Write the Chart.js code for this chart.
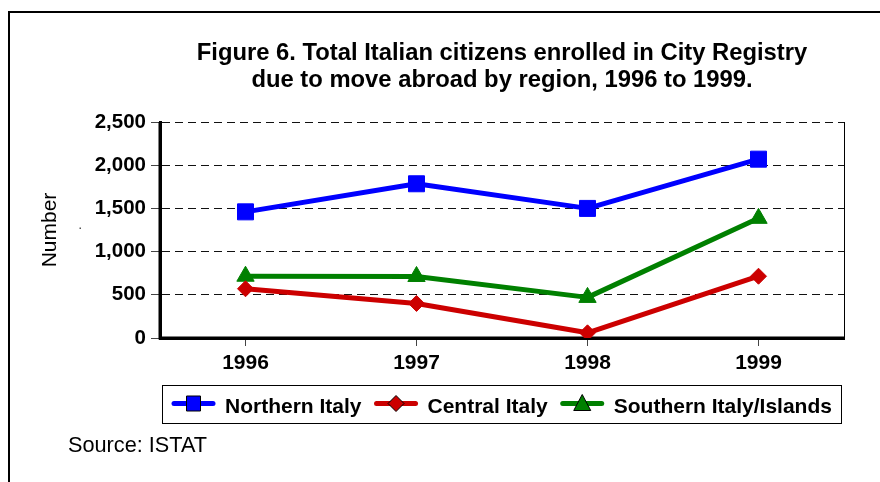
<!DOCTYPE html>
<html lang="en">
<head>
<meta charset="UTF-8">
<title>Figure 6 - Italian citizens enrolled due to move abroad</title>
<script src="https://cdn.jsdelivr.net/npm/chart.js@4"></script>
<style>
  html, body { margin: 0; padding: 0; background: #fff; }
  #wrap { width: 880px; height: 482px; }
</style>
</head>
<body>
<div id="wrap"><canvas id="chart" width="880" height="482"></canvas></div>
<script>
// data: enrolments by macro-region
const years = ['1996', '1997', '1998', '1999'];
const northern = [1460, 1785, 1500, 2070];
const central = [570, 400, 60, 715];
const southern = [715, 712, 470, 1385];
const yTicks = [0, 500, 1000, 1500, 2000, 2500];
const seriesNames = ['Northern Italy', 'Central Italy', 'Southern Italy/Islands'];
const titleLines = [
    'Figure 6. Total Italian citizens enrolled in City Registry',
    'due to move abroad by region, 1996 to 1999.'
];
const sourceNote = 'Source: ISTAT';

const FONT = "'Liberation Sans', Arial, sans-serif";
const BLUE = '#0000ff';
const RED = '#cc0000';
const GREEN = '#008000';

// small marker painter used by the legend
function marker(ctx, style, x, y, color) {
    ctx.save();
    ctx.fillStyle = color;
    ctx.strokeStyle = '#000';
    ctx.lineWidth = 1;
    ctx.beginPath();
    if (style === 'rect') {
        ctx.rect(x - 7, y - 7.5, 14, 15);
    } else if (style === 'rectRot') {
        ctx.moveTo(x, y - 8);
        ctx.lineTo(x + 8, y);
        ctx.lineTo(x, y + 8);
        ctx.lineTo(x - 8, y);
        ctx.closePath();
    } else {
        ctx.moveTo(x, y - 9);
        ctx.lineTo(x + 8.5, y + 7);
        ctx.lineTo(x - 8.5, y + 7);
        ctx.closePath();
    }
    ctx.fill();
    ctx.stroke();
    ctx.restore();
}

// heavy left and bottom axis lines, under the series
const axisLines = {
    id: 'axisLines',
    beforeDatasetsDraw(chart) {
        const ctx = chart.ctx;
        const a = chart.chartArea;
        ctx.save();
        ctx.strokeStyle = '#000';
        ctx.lineWidth = 3;
        ctx.beginPath();
        ctx.moveTo(a.left, a.top);
        ctx.lineTo(a.left, a.bottom);
        ctx.lineTo(a.right + 1, a.bottom);
        ctx.stroke();
        ctx.restore();
    }
};

// outer frame, title, legend box, source line
const decorations = {
    id: 'decorations',
    afterDraw(chart) {
        const ctx = chart.ctx;
        const area = chart.chartArea;
        ctx.save();

        // frame around the whole figure
        ctx.strokeStyle = '#000';
        ctx.lineWidth = 2;
        ctx.strokeRect(9, 12, 900, 500);

        // thin right edge of the plot area
        ctx.lineWidth = 1;
        ctx.beginPath();
        ctx.moveTo(Math.round(area.right) + 0.5, area.top);
        ctx.lineTo(Math.round(area.right) + 0.5, area.bottom);
        ctx.stroke();

        // title
        ctx.fillStyle = '#000';
        ctx.font = 'bold 23.8px ' + FONT;
        ctx.textAlign = 'center';
        ctx.textBaseline = 'alphabetic';
        const cx = (area.left + area.right) / 2;
        ctx.fillText(titleLines[0], cx, 60);
        ctx.fillText(titleLines[1], cx, 87);

        // legend
        ctx.strokeStyle = '#000';
        ctx.lineWidth = 1;
        ctx.strokeRect(162.5, 385.5, 679, 38);
        ctx.font = 'bold 21px ' + FONT;
        ctx.textAlign = 'left';
        const ds = chart.data.datasets;
        const lineY = 403.5;
        let x = 172;
        ds.forEach((d, i) => {
            ctx.save();
            ctx.strokeStyle = d.borderColor;
            ctx.lineWidth = 5;
            ctx.lineCap = 'round';
            ctx.beginPath();
            ctx.moveTo(x + 2, lineY);
            ctx.lineTo(x + 41, lineY);
            ctx.stroke();
            ctx.restore();
            marker(ctx, d.pointStyle, x + 21.5, lineY, d.pointBackgroundColor);
            ctx.fillStyle = '#000';
            ctx.fillText(seriesNames[i], x + 53, 413);
            x += 53 + ctx.measureText(seriesNames[i]).width + 13;
        });

        // source
        ctx.font = '21.7px ' + FONT;
        ctx.fillText(sourceNote, 68, 452);

        // stray dot beside the axis title
        ctx.fillStyle = '#555';
        ctx.fillRect(79.5, 227.5, 1.5, 1.5);

        ctx.restore();
    }
};

const ctx = document.getElementById('chart').getContext('2d');
const chart = new Chart(ctx, {
    type: 'line',
    data: {
        labels: years,
        datasets: [
            {
                label: seriesNames[0],
                data: northern,
                borderColor: BLUE,
                pointBackgroundColor: BLUE,
                pointStyle: 'rect',
                pointRadius: 11.3,
                pointHoverRadius: 11.3
            },
            {
                label: seriesNames[1],
                data: central,
                borderColor: RED,
                pointBackgroundColor: RED,
                pointStyle: 'rectRot',
                pointRadius: 8,
                pointHoverRadius: 8
            },
            {
                label: seriesNames[2],
                data: southern,
                borderColor: GREEN,
                pointBackgroundColor: GREEN,
                pointStyle: 'triangle',
                pointRadius: 10,
                pointHoverRadius: 10
            }
        ]
    },
    options: {
        responsive: false,
        animation: false,
        events: [],
        layout: { padding: { top: 122, right: 36, bottom: 0, left: 0 } },
        elements: {
            line: { borderWidth: 5, tension: 0, borderCapStyle: 'round', borderJoinStyle: 'round' },
            point: { borderColor: '#000', borderWidth: 1 }
        },
        scales: {
            x: {
                type: 'category',
                offset: true,
                afterFit: s => { s.height = 144; },
                grid: {
                    drawOnChartArea: false,
                    tickLength: 8,
                    tickColor: '#444',
                    tickWidth: 1
                },
                border: { width: 3, color: '#000' },
                ticks: {
                    color: '#000',
                    font: { family: FONT, size: 21, weight: 'bold' },
                    padding: 5,
                    maxRotation: 0
                }
            },
            y: {
                min: 0,
                max: 2500,
                afterFit: s => { s.width = 160; },
                afterBuildTicks: s => { s.ticks = yTicks.map(v => ({ value: v })); },
                grid: {
                    color: '#111',
                    lineWidth: 1,
                    tickLength: 9,
                    tickColor: '#444',
                    tickWidth: 1
                },
                border: { width: 3, color: '#000', dash: [8, 5] },
                ticks: {
                    color: '#000',
                    font: { family: FONT, size: 20.5, weight: 'bold' },
                    padding: 5,
                    callback: v => v.toLocaleString('en-US')
                },
                title: {
                    display: true,
                    text: 'Number',
                    color: '#000',
                    font: { family: FONT, size: 21 },
                    padding: 38
                }
            }
        },
        plugins: {
            legend: { display: false },
            tooltip: { enabled: false }
        }
    },
    plugins: [axisLines, decorations]
});
</script>
</body>
</html>
